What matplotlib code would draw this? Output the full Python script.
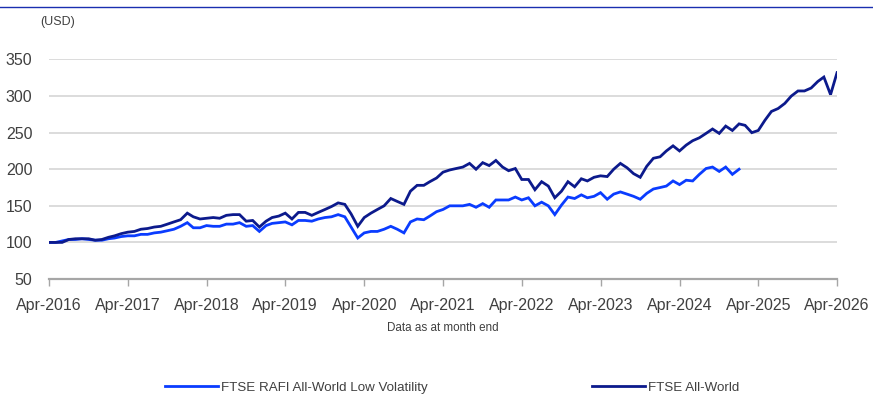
import pandas as pd
import matplotlib
matplotlib.use("Agg")
import matplotlib.pyplot as plt
from matplotlib.lines import Line2D

plt.rcParams['font.family'] = ['Liberation Sans', 'DejaVu Sans']

# month-end index levels, rebased to 100 at Apr-2016
all_world = [100, 100, 100, 104, 105, 105, 105, 103, 104, 107, 109, 112,
             114, 115, 118, 119, 121, 122, 125, 128, 131, 140, 135, 132,
             133, 134, 133, 137, 138, 138, 129, 130, 121, 129, 134, 136,
             140, 132, 141, 141, 137, 141, 145, 149, 154, 152, 139, 122,
             134, 140, 145, 150, 160, 156, 152, 170, 178, 178, 183, 188,
             196, 199, 201, 203, 208, 200, 209, 205, 212, 203, 198, 201,
             186, 186, 172, 183, 177, 161, 170, 183, 176, 187, 184, 189,
             191, 190, 200, 208, 202, 194, 189, 204, 215, 217, 225, 232,
             225, 233, 239, 243, 249, 255, 249, 259, 253, 262, 260, 250,
             253, 267, 279, 283, 290, 300, 307, 307, 311, 320, 326, 302,
             332]
low_vol = [100, 100, 102, 104, 104, 105, 104, 103, 103, 105, 106, 108,
           109, 109, 111, 111, 113, 114, 116, 118, 122, 127, 120, 120,
           123, 122, 122, 125, 125, 127, 122, 123, 115, 123, 126, 127,
           128, 124, 130, 130, 129, 132, 134, 135, 138, 135, 121, 106,
           113, 115, 115, 118, 122, 118, 113, 128, 132, 131, 136, 142,
           145, 150, 150, 150, 152, 148, 153, 148, 158, 158, 158, 162,
           158, 161, 150, 155, 150, 138, 151, 162, 160, 165, 161, 163,
           168, 159, 166, 169, 166, 163, 159, 167, 173, 175, 177, 184,
           179, 185, 184, 193, 201, 203, 197, 203, 193, 200]

dates = pd.date_range('2016-04-30', periods=len(all_world), freq='ME')
y_ticks = [50, 100, 150, 200, 250, 300, 350]

fig = plt.figure(figsize=(8.73, 3.94), dpi=100)
ax = fig.add_axes([0.0561, 0.2919, 0.9027, 0.5571])

light, = ax.plot(dates[:len(low_vol)], low_vol, color='#0a3cff', lw=2.0,
                 solid_joinstyle='miter', label='FTSE RAFI All-World Low Volatility')
dark, = ax.plot(dates, all_world, color='#0c1a8c', lw=2.0,
                solid_joinstyle='miter', label='FTSE All-World')

ax.set_xlim(dates[0], dates[-1])
ax.set_ylim(50, 350)
ax.set_yticks(y_ticks)
ax.set_xticks(dates[::12])
ax.set_xticklabels([d.strftime('%b-%Y') for d in dates[::12]])

ax.grid(axis='y', color='#d9d9d9', lw=1.3)
ax.set_axisbelow(True)
for s in ['top', 'right', 'left']:
    ax.spines[s].set_visible(False)
ax.spines['bottom'].set_color('#a6a6a6')
ax.spines['bottom'].set_linewidth(1.6)
ax.tick_params(axis='y', length=0, pad=12, labelsize=11.5, labelcolor='#404040')
ax.tick_params(axis='x', length=5, width=1, color='#a6a6a6', pad=9,
               labelsize=11.5, labelcolor='#404040')

fig.text(0.046, 0.945, '(USD)', fontsize=9, color='#404040', va='center')
fig.text(0.507, 0.1665, 'Data as at month end', fontsize=8.4, color='#404040',
         ha='center', va='center')

# thin rule along the top edge
fig.add_artist(Line2D([0, 1], [0.983, 0.983], transform=fig.transFigure,
                      color='#1a2fb0', lw=1))

fig.legend(handles=[light, dark], loc='center', bbox_to_anchor=(0.518, 0.016),
           ncol=2, frameon=False, fontsize=9.6, handlelength=4.0,
           handletextpad=0.23, columnspacing=12.3, labelcolor='#404040')

fig.savefig('out.png', dpi=100)
